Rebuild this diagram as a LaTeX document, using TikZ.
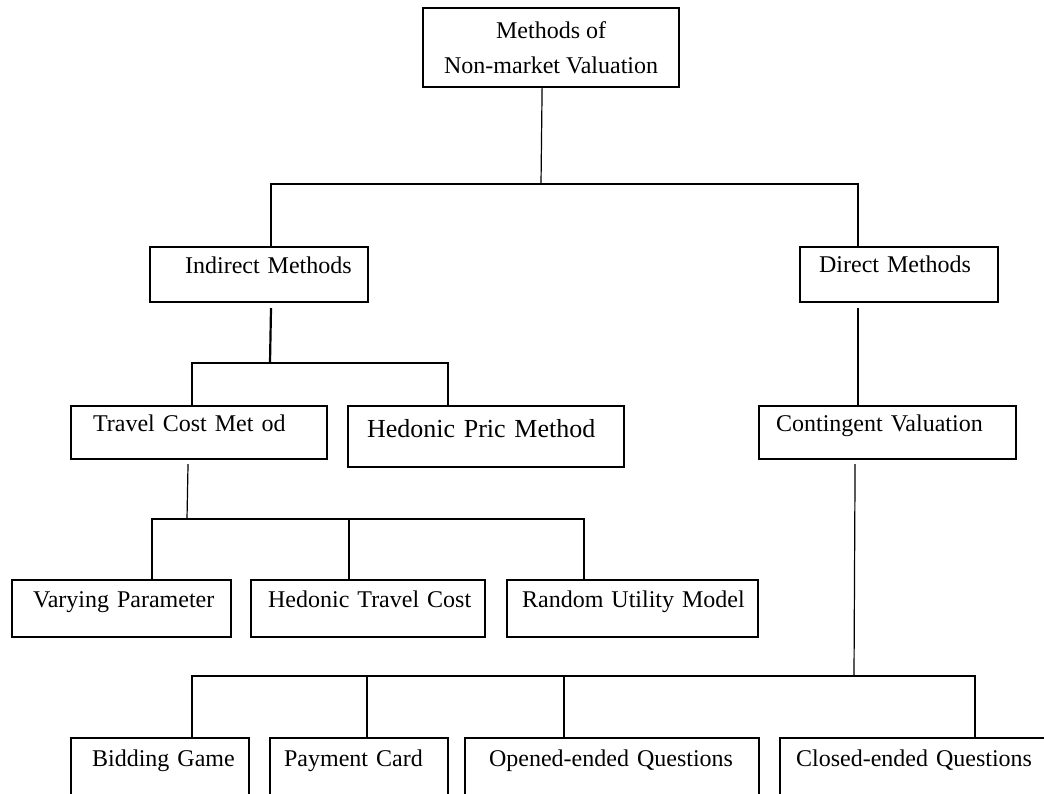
\documentclass[tikz,border=0pt]{standalone}
\usepackage{fontspec}
\setmainfont{Liberation Serif}
\newcommand\boxfont{\fontsize{24}{35}\selectfont}
\begin{document}
\begin{tikzpicture}[x=1pt,y=-1pt,
	box/.style={draw,line width=2.2pt,anchor=north west,inner sep=0pt,align=left,font=\boxfont,text height=26pt},
	link/.style={line width=2.2pt},
	thinlink/.style={line width=1.2pt}]
	\clip (0,0) rectangle (1044,793);
	% boxes
	\node[draw,line width=2.2pt,anchor=north west,minimum width=256pt,minimum height=79pt,align=center,font=\boxfont] (top) at (422,7) {Methods of\\Non-market Valuation};
	\node[box,text width=218pt,text depth=29pt] (ind) at (149,246) {\hspace*{35pt}Indirect Methods};
	\node[box,text width=198pt,text height=25pt,text depth=30pt] (dir) at (799,246) {\hspace*{19pt}Direct Methods};
	\node[box,text width=256pt,text height=25pt,text depth=28pt] (tcm) at (70,405) {\hspace*{22pt}Travel Cost Met od};
	\node[box,text width=276pt,text height=31pt,text depth=30pt,font=\fontsize{26}{30}\selectfont] (hpm) at (347,405) {\hspace*{19pt}Hedonic Pric Method};
	\node[box,text width=257pt,text height=25pt,text depth=28pt] (cv) at (758,405) {\hspace*{17pt}Contingent Valuation};
	\node[box,text width=219pt,text height=27pt,text depth=30pt] (vp) at (11,579) {\hspace*{21pt}Varying Parameter};
	\node[box,text width=234pt,text height=27pt,text depth=30pt] (htc) at (250,579) {\hspace*{17pt}Hedonic Travel Cost};
	\node[box,text width=251pt,text height=27pt,text depth=30pt] (rum) at (506,579) {\hspace*{15pt}Random Utility Model};
	\node[box,text width=178pt,text height=28pt,text depth=50pt] (bg) at (70,737) {\hspace*{21pt}Bidding Game};
	\node[box,text width=178pt,text height=28pt,text depth=50pt] (pc) at (269,737) {\hspace*{14pt}Payment Card};
	\node[box,text width=294pt,text height=28pt,text depth=50pt] (oq) at (464,737) {\hspace*{24pt}Opened-ended Questions};
	\node[box,text width=270pt,text height=28pt,text depth=50pt] (cq) at (779,737) {\hspace*{16pt}Closed-ended Questions};
	% branch points
	\coordinate (s1) at (541,184);
	\coordinate (s2) at (270,363);
	\coordinate (s3) at (187,519);
	\coordinate (s4) at (854,676);
	% connectors
	\draw[thinlink] ([xshift=-9pt]top.south) -- (s1);
	\draw[link] (s1) -| ([xshift=12pt]ind.north);
	\draw[link] (s1) -| ([xshift=-41pt]dir.north);
	\draw[link,shorten <=5pt] ([xshift=12pt]ind.south) -- (s2);
	\draw[link] (s2) -| ([xshift=-7pt]tcm.north);
	\draw[link] (s2) -| ([xshift=-38pt]hpm.north);
	\draw[link,shorten <=5pt] ([xshift=-41pt]dir.south) -- ([xshift=-41pt]dir.south |- cv.north);
	\draw[thinlink,shorten <=4pt] ([xshift=-11pt]tcm.south) -- (s3);
	\draw[link] (s3) -| ([xshift=30.5pt]vp.north);
	\draw[link] (s3) -| ([xshift=-19pt]htc.north);
	\draw[link] (s3) -| ([xshift=-48.5pt]rum.north);
	\draw[thinlink,shorten <=4pt] ([xshift=-32.5pt]cv.south) -- (s4);
	\draw[link] (s4) -| ([xshift=32pt]bg.north);
	\draw[link] (s4) -| ([xshift=8pt]pc.north);
	\draw[link] (s4) -| ([xshift=-48pt]oq.north);
	\draw[link] (s4) -| ([xshift=60pt]cq.north);
\end{tikzpicture}
\end{document}
